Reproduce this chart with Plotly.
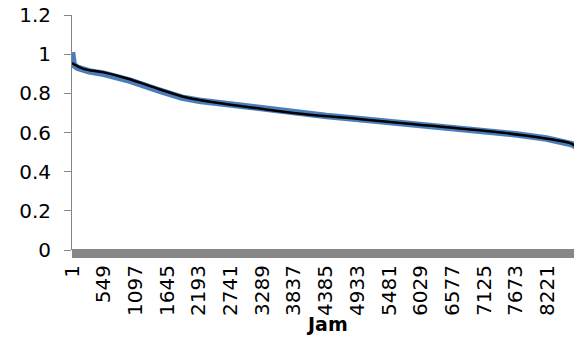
import plotly.graph_objects as go

# Load duration curve (hours sorted by load, per-unit)
load_hours = [1, 5, 30, 100, 300, 550, 1000, 1500, 1900, 2200, 2700, 3300, 3900,
              4400, 4950, 5500, 6000, 6600, 7100, 7700, 8200, 8500, 8650, 8730, 8750, 8760]
load_values = [1.01, 0.965, 0.945, 0.93, 0.912, 0.9, 0.865, 0.815, 0.778, 0.762, 0.744,
               0.72, 0.698, 0.684, 0.669, 0.654, 0.64, 0.624, 0.611, 0.59, 0.569, 0.554,
               0.54, 0.525, 0.505, 0.445]

trend_hours = [1, 200, 550, 1000, 1500, 2000, 2600, 3300, 4000, 5000, 6000, 7000,
               7800, 8250, 8600, 8716]
trend_values = [0.955, 0.925, 0.907, 0.872, 0.822, 0.777, 0.748, 0.72, 0.695, 0.668,
                0.64, 0.613, 0.586, 0.567, 0.547, 0.53]

x_tick_vals = [1, 549, 1097, 1645, 2193, 2741, 3289, 3837, 4385, 4933, 5481, 6029,
               6577, 7125, 7673, 8221]
x_tick_text = [str(v) for v in x_tick_vals]
y_tick_vals = [0, 0.2, 0.4, 0.6, 0.8, 1, 1.2]
y_tick_text = ["0", "0.2", "0.4", "0.6", "0.8", "1", "1.2"]
x_title = "Jam"

font_family = "DejaVu Sans"

fig = go.Figure()
fig.add_trace(go.Scatter(x=load_hours, y=load_values, mode="lines",
                         line=dict(color="#4A7EBB", width=6.5), showlegend=False,
                         hoverinfo="skip"))
fig.add_trace(go.Scatter(x=trend_hours, y=trend_values, mode="lines",
                         line=dict(color="#000000", width=2.5, shape="spline"),
                         showlegend=False, hoverinfo="skip"))

fig.add_shape(type="rect", xref="paper", x0=0, x1=1, yref="paper", ysizemode="pixel",
              yanchor=0, y0=1, y1=-8, fillcolor="#878787", line=dict(width=0),
              layer="above")

fig.add_annotation(text="<b>" + x_title + "</b>", xref="paper", x=0.5, yref="paper",
                   y=-0.315, yanchor="middle", showarrow=False,
                   font=dict(family=font_family, size=19, color="#000000"))

# The page body adds an 8px offset, so the figure is sized to the remaining window
fig.update_layout(
    width=574, height=330,
    margin=dict(l=64, r=1, t=7, b=88, autoexpand=False),
    paper_bgcolor="white", plot_bgcolor="white",
    font=dict(family=font_family, size=20, color="#000000"),
    xaxis=dict(range=[1, 8800], tickmode="array", tickvals=x_tick_vals,
               ticktext=x_tick_text, tickangle=-90, ticks="", showgrid=False,
               zeroline=False, showline=False, ticklabelstandoff=10, automargin=False,
               ticklabeloverflow="allow",
               tickfont=dict(family=font_family, size=20)),
    yaxis=dict(range=[0, 1.2], tickmode="array", tickvals=y_tick_vals,
               ticktext=y_tick_text, ticks="outside", ticklen=7, tickcolor="#868686",
               showgrid=False, zeroline=False, showline=True, linecolor="#868686",
               linewidth=1, ticklabelstandoff=9, automargin=False,
               ticklabeloverflow="allow",
               tickfont=dict(family=font_family, size=20)),
)

fig.write_html("out.html")
